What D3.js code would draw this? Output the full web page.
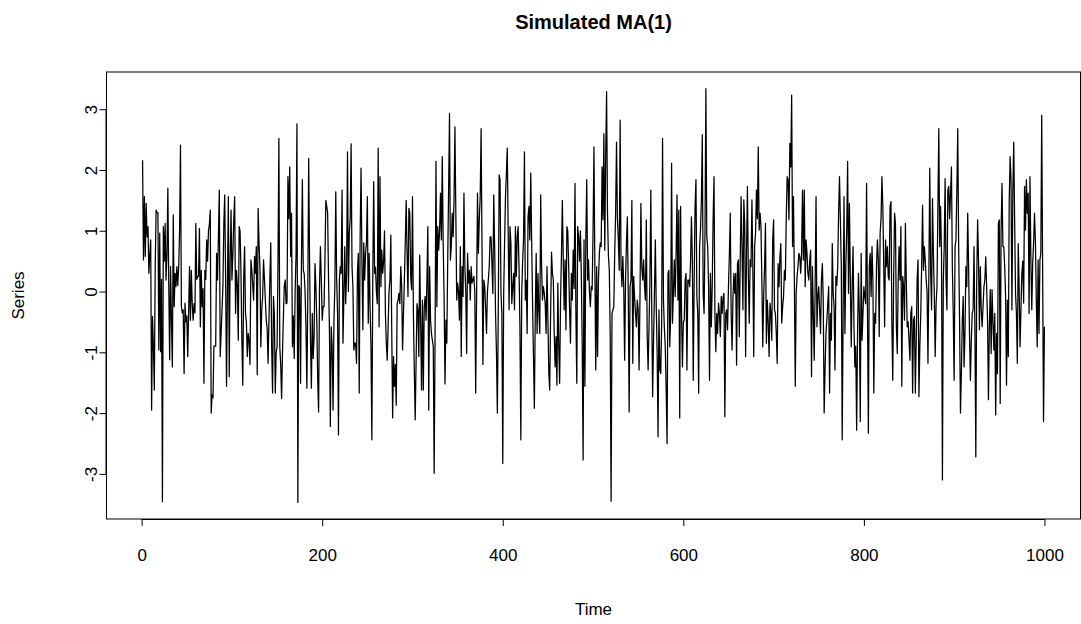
<!DOCTYPE html>
<html>
<head>
<meta charset="utf-8">
<script src="https://cdn.jsdelivr.net/npm/d3@7"></script>
<style>
  html, body { margin: 0; padding: 0; background: #ffffff; }
  svg { display: block; font-family: "Liberation Sans", Arial, sans-serif; }
</style>
</head>
<body>
<svg id="chart" width="1081" height="624"></svg>
<script>
const chartTitle = "Simulated MA(1)";
const xLabel = "Time";
const yLabel = "Series";
const xTicks = [0, 200, 400, 600, 800, 1000];
const yTicks = [-3, -2, -1, 0, 1, 2, 3];

// Simulated MA(1) series, t = 1..1000
const series = [
  2.16, 0.52, 1.56, 0.58, 1.45, 0.9, 1.07, 0.3, 0.6, 0.85,
  -1.95, -0.41, -0.9, -1.62, 0.4, 1.34, 1.3, 1.3, -0.96, 0.96,
  -0.99, 0.2, -3.46, 1.07, 0.5, 1.12, 0.19, 0.6, 1.7, 0.13,
  -1.12, 0.41, -0.5, -1.24, 1.26, -0.25, 0.3, 0.08, 0.41, 0.1,
  0.41, 1.0, 2.41, -0.25, -0.35, -0.3, -1.35, -0.19, -0.5, -0.4,
  -1.07, -0.35, 0.41, -0.47, 0.35, -0.2, -0.47, -0.2, -0.35, 1.12,
  0.2, 0.25, 0.25, 1.04, -0.58, 0.35, -0.25, 0.05, -1.51, 0.35,
  0.2, 0.85, 0.5, 1.0, 1.1, 1.34, -2.0, -1.7, -1.75, -0.9,
  -0.9, -0.9, 0.63, 0.19, 0.9, 1.67, -1.07, -0.69, -0.3, 0.08,
  1.12, 1.59, 0.2, -1.56, 0.08, 1.56, -1.4, 0.5, 1.34, 0.19,
  0.6, 1.18, 1.56, -0.36, 0.35, 0.1, -0.8, 1.07, 1.0, 0.3,
  -0.8, -1.54, 0.2, 0.74, -0.36, -0.5, -1.07, -0.69, -0.8, -1.2,
  0.52, 0.35, 0.1, -0.14, 0.58, 0.3, 0.74, -1.37, 1.37, 0.8,
  0.41, -0.91, -0.3, -0.08, 0.52, 0.2, -0.14, -0.47, -0.6, -1.18,
  -0.47, 0.2, 0.8, -0.91, -1.67, -0.08, -0.4, -1.67, -1.0, -0.91,
  0.5, 2.52, -0.91, -1.2, -1.76, -1.0, -0.4, 0.1, 0.19, -0.2,
  -0.19, 1.89, 1.2, 2.05, 0.58, 1.29, -0.91, -0.4, -1.1, 0.0,
  0.6, 2.76, -3.47, 0.1, 0.05, -1.51, 0.5, 1.84, 0.35, 0.3,
  0.0, -0.6, -1.59, -0.1, 2.19, 0.5, -0.8, -1.59, -0.36, -1.1,
  -0.74, 0.46, 0.08, -0.5, -1.46, -1.98, 0.08, 0.74, 0.19, -0.47,
  -0.25, -0.25, 0.5, 1.5, 1.4, 1.29, 0.2, -0.63, -2.22, -0.58,
  -0.9, -1.95, -0.47, 0.08, 1.64, 0.2, -0.36, -2.36, 0.19, 0.41,
  0.3, 1.67, -0.85, -0.08, 0.74, -0.2, 0.3, 2.3, 0.0, 0.96,
  1.2, 2.43, 0.41, 0.08, -0.96, -0.85, -0.85, -1.18, 0.3, 0.63,
  -1.67, 0.9, 2.03, 0.5, -0.63, 0.8, 0.19, 0.63, 0.8, 1.56,
  -0.52, 0.63, -0.25, -0.91, -2.44, 0.19, 1.81, 0.3, 0.4, 0.0,
  -0.2, 2.36, -0.58, 1.89, 0.08, 0.68, 0.3, 0.5, 1.0, -0.36,
  -0.85, -1.13, -0.58, 0.0, 0.19, 0.93, -0.63, -2.08, -1.07, -1.56,
  -1.2, -1.87, -0.2, -0.14, -0.03, -0.2, 0.41, 0.08, -0.96, -0.36,
  0.19, 0.8, 1.5, 0.63, -0.08, 1.37, 1.29, 0.25, 0.03, 1.56,
  -0.36, -1.29, -2.11, -1.13, -0.2, -0.3, -1.07, 0.6, -0.47, -1.62,
  -0.14, -1.62, -0.25, -0.08, -0.47, 0.2, 1.07, -1.95, 0.41, -0.47,
  -0.69, -0.8, -0.9, -2.99, -0.74, 2.14, -0.25, 1.07, 0.68, 1.0,
  1.62, 0.85, 2.22, 0.8, -0.08, -1.52, -0.47, -0.85, 0.5, 1.67,
  2.93, 0.52, 0.74, 1.29, 0.9, 1.5, 2.71, 1.29, -0.14, 0.14,
  0.0, -0.47, 0.74, -1.07, 0.41, -0.08, 1.62, 0.41, 0.0, -1.02,
  0.63, 0.14, 0.35, -0.14, 0.41, 0.14, 0.19, 0.25, 0.0, -1.67,
  -0.08, 1.62, 0.63, 1.2, 1.56, 2.68, 0.74, -1.2, 0.19, 0.08,
  -0.25, -0.69, 0.0, 0.19, 0.41, 0.9, 0.9, 0.46, -0.03, 1.59,
  0.74, -0.36, -1.0, -2.0, -0.36, 1.92, 1.84, -0.03, -0.36, -2.83,
  -0.03, 0.8, 1.56, 1.94, 2.36, 0.96, -0.3, 1.07, 0.8, -0.2,
  0.08, 0.3, -0.3, 1.07, 0.25, 0.9, 1.07, 0.41, -0.58, -2.44,
  -0.03, 0.5, 0.85, 2.3, -0.14, 0.19, -0.69, 1.23, 1.4, 0.85,
  1.95, 0.85, -0.2, -1.07, -1.92, -0.36, 0.63, -0.69, 0.3, -0.36,
  -0.69, 1.59, 0.41, -0.14, 0.08, -0.03, -0.2, -0.69, 0.41, -0.47,
  -1.35, -1.62, -0.36, 0.65, 0.3, 0.19, -0.69, -1.24, -0.74, -1.54,
  0.14, -0.91, -1.51, -0.14, 0.6, 1.5, 0.52, -0.3, 0.52, -0.63,
  1.07, 1.0, 0.41, -0.3, -0.85, 0.3, -0.14, 0.68, 0.05, 1.78,
  -0.36, -1.51, 1.07, 0.9, 0.5, 1.0, 0.3, -0.91, -2.77, 0.85,
  -1.56, 0.85, 1.84, 0.19, 0.52, 0.0, -0.25, 0.08, 0.03, 1.0,
  2.38, 0.41, -1.29, 0.41, -1.07, 0.2, 0.63, 0.8, 0.74, 2.05,
  1.18, 2.6, 0.68, 2.22, 3.29, 1.29, 0.6, 0.35, -0.69, -3.45,
  -0.36, -0.3, -0.25, 0.63, 1.29, 2.46, 1.2, 0.85, 0.35, 2.82,
  0.41, 0.08, 0.58, 0.08, -1.13, 0.19, 0.8, 1.23, -0.03, -1.98,
  0.08, 0.19, 1.5, -1.18, 0.25, -0.1, -0.36, -0.58, -0.14, -0.3,
  -1.29, -0.08, 1.45, 0.41, 0.19, 0.52, 0.1, -0.14, 1.18, -0.74,
  -1.29, -0.58, 0.19, 1.67, -0.25, -1.73, -0.8, -0.03, 0.85, -0.25,
  -1.0, -2.39, -0.3, -1.29, -1.35, -0.52, 2.52, -0.14, -0.6, -0.91,
  -1.62, -2.5, 0.3, 0.35, -0.91, -0.36, 2.11, -0.52, -0.03, 0.52,
  -0.08, 0.63, 1.59, -0.14, 1.34, -2.08, 1.4, -0.36, -1.24, -0.5,
  -0.47, 0.19, 0.3, -1.29, 0.19, 0.19, 0.08, 0.5, 1.23, 0.52,
  -1.46, 0.14, 1.4, 1.84, -0.08, -0.36, -1.67, 0.74, 1.01, 1.5,
  2.58, -0.03, -0.36, 0.96, 3.34, 0.9, 0.74, 0.08, -1.46, 0.3,
  -0.58, 0.08, 1.2, 1.89, -0.36, -0.99, -0.36, -0.69, -0.19, -0.36,
  -0.74, -0.08, -0.36, -0.1, -0.03, -2.06, -0.36, -0.3, -0.63, 0.08,
  0.6, 1.29, -0.36, -0.96, -0.08, 0.3, -0.03, 0.3, -1.21, 0.46,
  0.52, -0.74, 0.5, 1.56, 0.74, -0.3, 1.51, 1.12, -1.07, 0.63,
  1.73, 0.3, -0.52, 0.52, 0.41, 1.51, 0.41, -1.07, 0.74, 0.96,
  1.67, 1.2, 2.38, 1.01, 1.29, 1.07, 0.19, -0.91, -0.08, 0.41,
  1.12, -0.85, -0.14, -0.5, -1.07, -0.19, -0.36, -0.8, 0.85, 1.18,
  -0.3, -0.36, -0.7, -1.18, 0.46, 0.08, 0.57, 0.79, -0.52, -0.25,
  -0.08, 0.35, 0.19, 1.2, 1.89, 1.84, 1.18, 2.44, 2.05, 3.23,
  0.74, 1.56, 0.19, -1.56, -0.03, 0.25, 0.41, 0.63, 0.57, 0.3,
  0.63, 1.67, 0.52, 1.67, 0.08, 0.85, 0.63, 0.3, 0.19, 0.5,
  0.68, -1.4, 0.41, -0.36, -1.13, 0.08, 1.56, -0.58, -0.08, 0.08,
  -0.3, -0.69, 0.19, 0.46, -0.14, -2.0, -1.29, -0.69, -0.47, -0.2,
  0.08, -1.67, -0.36, -0.8, 0.79, -0.03, -0.25, -1.29, 0.25, 0.1,
  0.41, 1.29, 1.89, 1.18, 0.41, -2.44, -0.36, 1.56, -0.69, 0.4,
  1.01, 2.14, -0.03, 1.45, 0.19, -0.91, 0.08, 0.74, -0.52, -1.24,
  -0.9, -2.28, -0.69, 0.3, -0.36, -2.14, 0.63, -0.8, -0.36, 0.08,
  -0.08, -0.2, 1.78, -0.36, -2.33, 0.41, 0.63, -0.08, 0.74, 0.2,
  -1.67, -0.36, -0.52, 0.41, 0.85, 0.52, -0.74, 0.96, 1.2, 1.89,
  1.4, 0.41, -0.58, 0.85, 0.41, 0.74, 0.25, 0.19, 1.4, 1.48,
  -0.5, -1.46, 0.25, 1.29, 1.12, -0.58, -1.02, 0.19, 0.74, 0.19,
  1.07, -1.56, 0.25, 0.08, -0.47, 1.12, 0.19, -0.58, -0.5, -0.8,
  -1.13, -0.36, -0.25, -1.67, -0.47, -0.41, -1.67, -0.8, 0.2, 0.52,
  -1.73, -0.91, -0.36, 0.41, 1.42, 0.35, 0.74, 0.52, 0.19, 0.0,
  -1.18, 0.3, 2.03, 0.3, -0.3, 1.53, 0.63, -0.03, -1.07, -0.2,
  0.08, 1.4, 2.68, 0.74, 1.4, 0.63, -3.1, 0.19, 0.74, 1.86,
  0.19, -0.3, 1.67, 1.73, 1.2, 1.62, 2.05, 0.41, -0.36, -1.46,
  0.74, 0.85, 1.67, 2.68, 0.74, -0.47, -2.0, -1.35, -0.5, -0.08,
  -1.24, -0.69, 0.41, 0.08, 1.29, 0.41, -0.69, -1.46, -0.8, -0.36,
  -0.3, 0.74, -0.63, -2.72, 0.19, 1.18, 0.52, -0.63, 0.41, -0.3,
  -0.58, -0.25, 0.08, 0.19, 0.57, 0.08, -0.47, -1.78, -0.58, 0.03,
  -1.02, 0.03, -0.5, -0.96, -0.36, -2.03, -0.69, -1.35, 1.12, 1.18,
  -1.84, 1.01, 1.78, 0.74, 0.74, 0.4, -0.08, -1.54, -0.14, -1.07,
  1.5, 2.22, 1.84, -0.3, 1.62, 2.46, 1.18, -0.03, -0.36, -1.18,
  0.79, 0.08, -0.91, -0.3, 0.3, 0.5, -0.19, 1.73, 1.01, 1.84,
  1.29, 1.62, -0.36, 1.89, 0.52, -0.3, 0.46, 0.8, 1.29, 0.85,
  -0.14, -0.91, 0.52, -0.69, 0.52, 0.63, 2.9, 0.41, -2.14, -0.58
];

const data = series.map((v, i) => ({ t: i + 1, v: v }));

const svg = d3.select("#chart");
const box = { left: 106.5, right: 1080.5, top: 72, bottom: 519 };

// R-style 4% axis extension
const tExt = d3.extent(data, d => d.t);
const vExt = d3.extent(data, d => d.v);
const tPad = 0.04 * (tExt[1] - tExt[0]);
const vPad = 0.04 * (vExt[1] - vExt[0]);

const x = d3.scaleLinear()
  .domain([tExt[0] - tPad, tExt[1] + tPad])
  .range([box.left, box.right]);
const y = d3.scaleLinear()
  .domain([vExt[0] - vPad, vExt[1] + vPad])
  .range([box.bottom, box.top]);

const fmt = d => String(d);  // plain hyphen-minus, as in R

// series line
const line = d3.line().x(d => x(d.t)).y(d => y(d.v));
svg.append("path")
  .datum(data)
  .attr("fill", "none")
  .attr("stroke", "#000")
  .attr("stroke-width", 1.25)
  .attr("stroke-linejoin", "round")
  .attr("d", line);

// plot box
svg.append("rect")
  .attr("x", box.left).attr("y", box.top)
  .attr("width", box.right - box.left).attr("height", box.bottom - box.top)
  .attr("fill", "none").attr("stroke", "#000").attr("stroke-width", 1);

// x axis (R style: line spans first to last tick)
const xAxis = d3.axisBottom(x).tickValues(xTicks).tickSize(7).tickPadding(23).tickFormat(fmt);
const gx = svg.append("g").attr("transform", `translate(0,${box.bottom})`).call(xAxis);
gx.select(".domain").remove();
gx.append("line")
  .attr("x1", x(xTicks[0])).attr("x2", x(xTicks[xTicks.length - 1]))
  .attr("y1", 0.5).attr("y2", 0.5).attr("stroke", "#000");
gx.selectAll("text").attr("font-size", 17).attr("fill", "#000")
  .attr("font-family", "Liberation Sans, Arial, sans-serif");
gx.selectAll(".tick line").attr("stroke", "#000");

// y axis
const yAxis = d3.axisLeft(y).tickValues(yTicks).tickSize(7).tickFormat(fmt);
const gy = svg.append("g").attr("transform", `translate(${box.left},0)`).call(yAxis);
gy.select(".domain").remove();
gy.append("line")
  .attr("x1", -0.5).attr("x2", -0.5)
  .attr("y1", y(yTicks[0])).attr("y2", y(yTicks[yTicks.length - 1])).attr("stroke", "#000");
gy.selectAll(".tick line").attr("stroke", "#000");
gy.selectAll(".tick text")
  .attr("font-size", 17).attr("fill", "#000")
  .attr("font-family", "Liberation Sans, Arial, sans-serif")
  .attr("x", null).attr("dy", null)
  .attr("text-anchor", "middle")
  .attr("dominant-baseline", "central")
  .attr("transform", "translate(-15,0) rotate(-90)");

// title and labels
svg.append("text")
  .attr("x", (box.left + box.right) / 2).attr("y", 29)
  .attr("text-anchor", "middle")
  .attr("font-size", 20).attr("font-weight", "bold")
  .text(chartTitle);

svg.append("text")
  .attr("x", (box.left + box.right) / 2).attr("y", 615)
  .attr("text-anchor", "middle")
  .attr("font-size", 17)
  .text(xLabel);

svg.append("text")
  .attr("transform", `translate(24,${(box.top + box.bottom) / 2}) rotate(-90)`)
  .attr("text-anchor", "middle")
  .attr("font-size", 17)
  .text(yLabel);
</script>
</body>
</html>
